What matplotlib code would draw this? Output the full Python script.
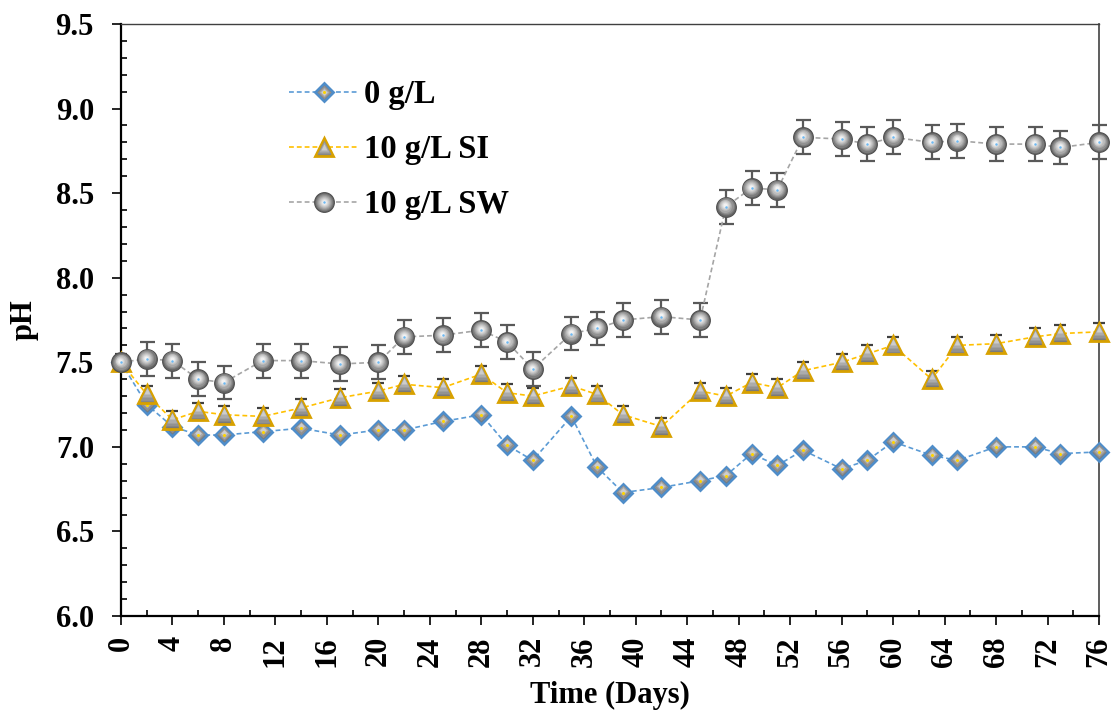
import matplotlib
matplotlib.use('Agg')
import matplotlib.pyplot as plt
from matplotlib.lines import Line2D
from matplotlib.legend_handler import HandlerTuple
from matplotlib.ticker import MultipleLocator, FormatStrFormatter
from matplotlib.transforms import offset_copy

# ---------------- data ----------------
days = [0, 2, 4, 6, 8, 11, 14, 17, 20, 22, 25, 28, 30, 32, 35, 37, 39, 42, 45,
        47, 49, 51, 53, 56, 58, 60, 63, 65, 68, 71, 73, 76]

ph_0 = [7.50, 7.25, 7.12, 7.07, 7.07, 7.09, 7.11, 7.07, 7.10, 7.10, 7.15, 7.19,
        7.01, 6.92, 7.18, 6.88, 6.73, 6.76, 6.80, 6.83, 6.96, 6.89, 6.98, 6.87,
        6.92, 7.03, 6.95, 6.92, 7.00, 7.00, 6.96, 6.97]
err_0 = [0.02, 0.02, 0.02, 0.02, 0.02, 0.02, 0.02, 0.02, 0.02, 0.02, 0.02, 0.02,
         0.02, 0.02, 0.02, 0.02, 0.02, 0.02, 0.02, 0.02, 0.02, 0.02, 0.02, 0.02,
         0.02, 0.02, 0.02, 0.02, 0.02, 0.02, 0.02, 0.02]

ph_si = [7.50, 7.31, 7.16, 7.21, 7.19, 7.18, 7.23, 7.29, 7.33, 7.37, 7.35, 7.43,
         7.32, 7.30, 7.36, 7.31, 7.19, 7.12, 7.33, 7.30, 7.38, 7.35, 7.45, 7.50,
         7.55, 7.60, 7.40, 7.60, 7.61, 7.65, 7.67, 7.68]
err_si = [0.05, 0.05, 0.05, 0.05, 0.05, 0.05, 0.05, 0.05, 0.05, 0.05, 0.05, 0.05,
          0.05, 0.05, 0.05, 0.05, 0.05, 0.05, 0.05, 0.05, 0.05, 0.05, 0.05, 0.05,
          0.05, 0.05, 0.05, 0.05, 0.05, 0.05, 0.05, 0.05]

ph_sw = [7.50, 7.52, 7.51, 7.40, 7.38, 7.51, 7.51, 7.49, 7.50, 7.65, 7.66, 7.69,
         7.62, 7.46, 7.67, 7.70, 7.75, 7.77, 7.75, 8.42, 8.53, 8.52, 8.83, 8.82,
         8.79, 8.83, 8.80, 8.81, 8.79, 8.79, 8.77, 8.80]
err_sw = [0.02, 0.10, 0.10, 0.10, 0.10, 0.10, 0.10, 0.10, 0.10, 0.10, 0.10, 0.10,
          0.10, 0.10, 0.10, 0.10, 0.10, 0.10, 0.10, 0.10, 0.10, 0.10, 0.10, 0.10,
          0.10, 0.10, 0.10, 0.10, 0.10, 0.10, 0.10, 0.10]

labels = ['0 g/L', '10 g/L SI', '10 g/L SW']
x_ticks = [0, 4, 8, 12, 16, 20, 24, 28, 32, 36, 40, 44, 48, 52, 56, 60, 64, 68, 72, 76]

# ---------------- style ----------------
plt.rcParams['font.family'] = ['Liberation Serif', 'DejaVu Serif']
plt.rcParams['font.weight'] = 'bold'
FS = 22

fig = plt.figure(figsize=(11.16, 7.12), dpi=100)
ax = fig.add_axes([121 / 1116, 1 - 616 / 712, (1099 - 121) / 1116, (616 - 24) / 712])

dash = (0, (2.9, 1.8))


def layered(x, y, err, line_color, ecolor, base, layers, z, capsize):
    eb = ax.errorbar(x, y, yerr=err, fmt='none', ecolor=ecolor, elinewidth=1.6,
                     capsize=capsize, capthick=1.6, zorder=z)
    for art in eb.lines[1] + eb.lines[2]:
        art.set_clip_on(False)
    ax.plot(x, y, linestyle=dash, color=line_color, lw=1.2, zorder=z + 0.01)
    handles = [Line2D([], [], linestyle=dash, color=line_color, lw=1.2)]
    ax.plot(x, y, linestyle='none', zorder=z + 0.02, clip_on=False, **base)
    handles.append(Line2D([], [], linestyle='none', **base))
    for i, (lk, dx, dy) in enumerate(layers):
        tr = offset_copy(ax.transData, fig=fig, x=dx, y=dy, units='points')
        ax.plot(x, y, linestyle='none', transform=tr, zorder=z + 0.03 + i * 0.001,
                markeredgecolor='none', clip_on=False, **lk)
        handles.append(Line2D([], [], linestyle='none', markeredgecolor='none', **lk))
    return tuple(handles)


h0 = layered(days, ph_0, err_0, '#5b9bd5', '#404040',
             dict(marker='D', markersize=9.6, markerfacecolor='#767676',
                  markeredgecolor='#4f8dc9', markeredgewidth=2.0),
             [(dict(marker='D', markersize=7.4, markerfacecolor='#8f8f8f'), 0, 0.4),
              (dict(marker='D', markersize=5.4, markerfacecolor='#ababab'), 0, 0.9),
              (dict(marker='D', markersize=3.4, markerfacecolor='#cdcdcd'), 0, 1.3),
              (dict(marker='o', markersize=2.2, markerfacecolor='#ffd400'), 0, 0)],
             3, 3)

h1 = layered(days, ph_si, err_si, '#ffc000', '#404040',
             dict(marker='^', markersize=13.5, markerfacecolor='#7a7a7a',
                  markeredgecolor='#d8a100', markeredgewidth=2.0),
             [(dict(marker='^', markersize=10, markerfacecolor='#929292'), 0, 0.6),
              (dict(marker='^', markersize=7, markerfacecolor='#acacac'), 0, 1.4),
              (dict(marker='^', markersize=4, markerfacecolor='#cdcdcd'), 0, 2.4)],
             4, 4)

h2 = layered(days, ph_sw, err_sw, '#a5a5a5', '#595959',
             dict(marker='o', markersize=14.2, markerfacecolor='#666666',
                  markeredgecolor='#505050', markeredgewidth=0.8),
             [(dict(marker='o', markersize=12.6, markerfacecolor='#7c7c7c'), -0.1, 0.3),
              (dict(marker='o', markersize=11.0, markerfacecolor='#929292'), -0.2, 0.5),
              (dict(marker='o', markersize=9.4, markerfacecolor='#a8a8a8'), -0.3, 0.7),
              (dict(marker='o', markersize=7.8, markerfacecolor='#bdbdbd'), -0.35, 0.85),
              (dict(marker='o', markersize=6.2, markerfacecolor='#d0d0d0'), -0.4, 0.95),
              (dict(marker='o', markersize=4.6, markerfacecolor='#e2e2e2'), -0.4, 1.0),
              (dict(marker='o', markersize=3.0, markerfacecolor='#f2f2f2'), -0.4, 1.0),
              (dict(marker='o', markersize=1.8, markerfacecolor='#6cb8f2'), 0, 0)],
             5, 5.4)

# ---------------- axes ----------------
ax.set_xlim(0, 76)
ax.set_ylim(6.0, 9.5)
ax.set_xticks(x_ticks)
ax.xaxis.set_minor_locator(MultipleLocator(2))
ax.yaxis.set_major_locator(MultipleLocator(0.5))
ax.yaxis.set_minor_locator(MultipleLocator(0.1))
ax.yaxis.set_major_formatter(FormatStrFormatter('%.1f'))

ax.tick_params(axis='both', which='major', direction='out', length=6.5, width=1.2,
               labelsize=FS, color='black')
ax.tick_params(axis='both', which='minor', direction='in', length=4.5, width=1.2,
               color='black')
ax.tick_params(axis='y', which='major', pad=13)
ax.tick_params(axis='x', which='major', pad=8, labelrotation=90)
for lab in ax.get_xticklabels() + ax.get_yticklabels():
    lab.set_fontweight('bold')

for s in ['left', 'bottom']:
    ax.spines[s].set_linewidth(1.6)
    ax.spines[s].set_color('black')
ax.spines['top'].set_linewidth(1.0)
ax.spines['top'].set_color('#404040')
ax.spines['right'].set_linewidth(1.3)
ax.spines['right'].set_color('#505050')
for s in ax.spines.values():
    s.set_zorder(2)

ax.set_xlabel('Time (Days)', fontsize=FS, fontweight='bold', labelpad=10)
ax.set_ylabel('pH', fontsize=FS, fontweight='bold', labelpad=12)

leg = ax.legend([h0, h1, h2], labels, handler_map={tuple: HandlerTuple(ndivide=1)},
                loc='upper left', bbox_to_anchor=(0.158, 0.929), frameon=False,
                fontsize=23.5, handlelength=2.15, handletextpad=0.15, labelspacing=0.74,
                borderaxespad=0)
for t in leg.get_texts():
    t.set_fontweight('bold')

fig.savefig('out.png', dpi=100)
